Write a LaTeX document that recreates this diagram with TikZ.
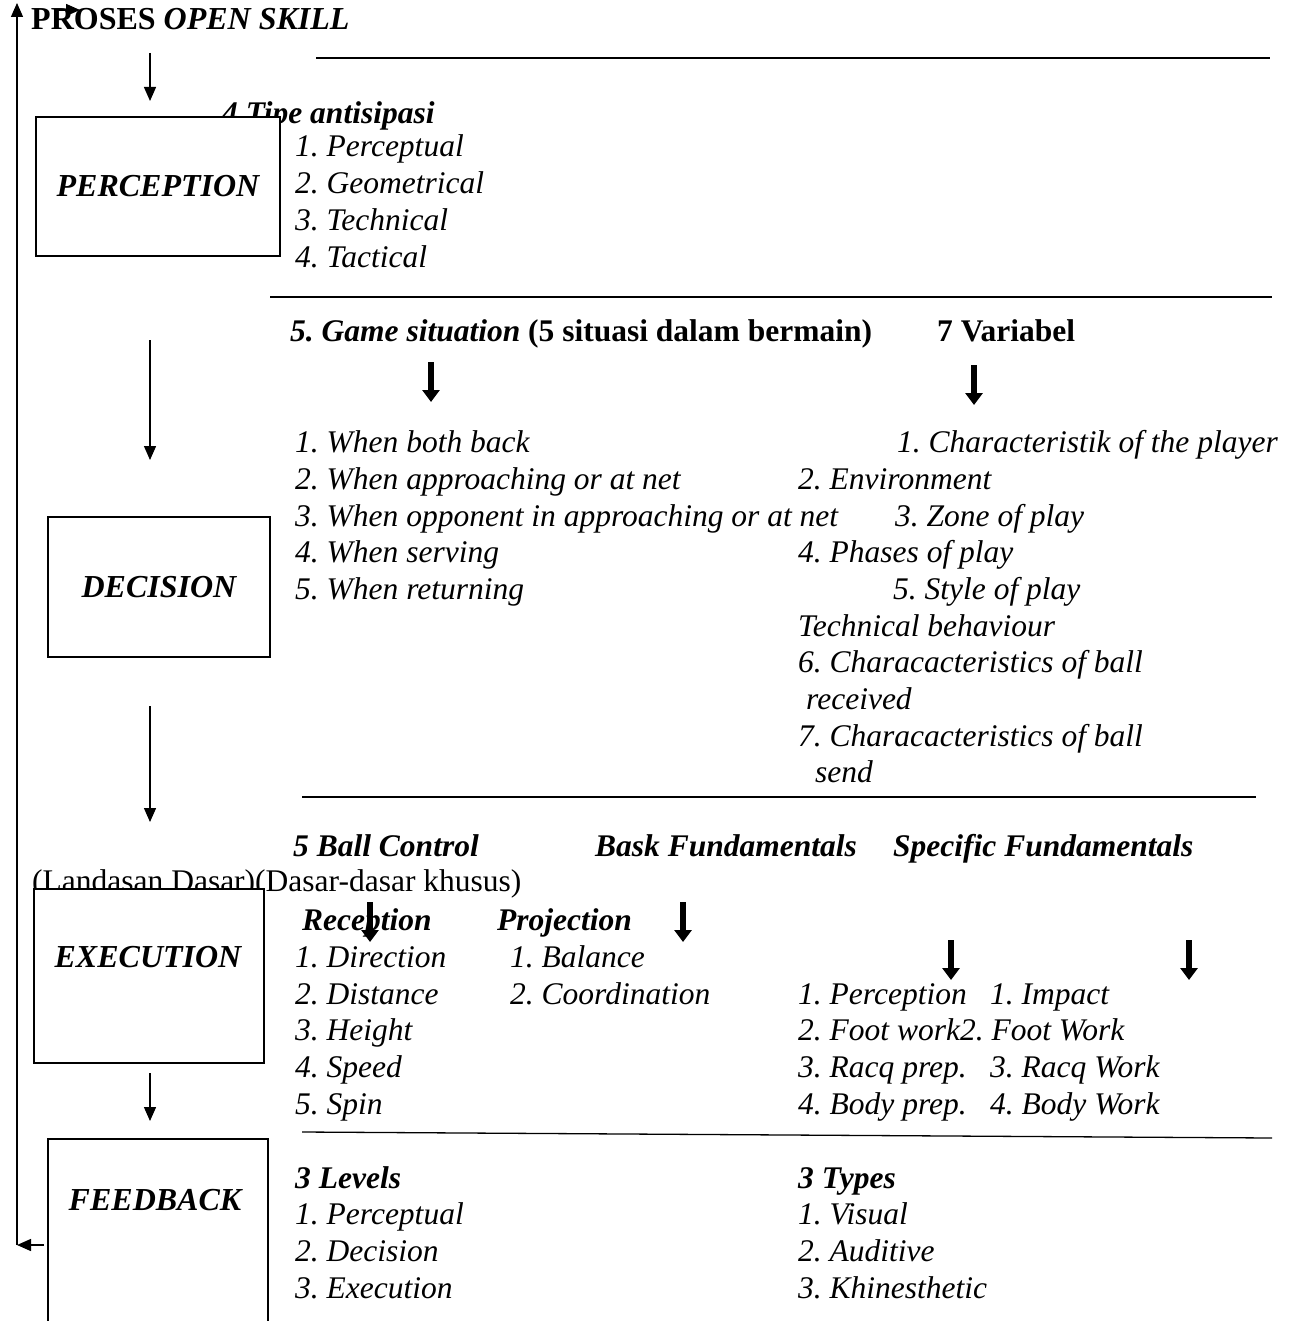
\documentclass[tikz,border=0pt]{standalone}
\usepackage{fontspec}
\setmainfont{Liberation Serif}
\usetikzlibrary{arrows.meta}
\begin{document}
\frenchspacing
\begin{tikzpicture}[x=1pt,y=-1pt,
  base/.style={anchor=west,inner sep=0pt,text height=22pt,text depth=7pt},
  txt/.style={base,font=\fontsize{31.5}{36}\selectfont\itshape},
  btxt/.style={base,font=\fontsize{31.5}{36}\selectfont\bfseries\itshape},
  bntxt/.style={base,font=\fontsize{31.5}{36}\selectfont\bfseries},
  rtxt/.style={base,font=\fontsize{31.5}{36}\selectfont},
  stage/.style={draw,line width=1.3pt,fill=white,inner sep=0pt,font=\fontsize{32}{36}\selectfont\bfseries\itshape},
  thin/.style={line width=1.4pt,-{Triangle[length=14pt,width=12pt]}},
  thick/.style={line width=6pt,-{Triangle[length=12pt,width=17pt]}},
  rule/.style={line width=1.3pt}]
\useasboundingbox (0,0) rectangle (1291,1321);

% title
\node[base,font=\fontsize{32}{36}\selectfont\bfseries] (title) at (31,22) {PROSES \textit{OPEN SKILL}};

% separator lines
\coordinate (l1a) at (316,58); \coordinate (l1b) at (1270,58);
\coordinate (l2a) at (270,297); \coordinate (l2b) at (1272,297);
\coordinate (l3a) at (302,797); \coordinate (l3b) at (1256,797);
\coordinate (l4a) at (302,1132); \coordinate (l4b) at (1272,1138);
\draw[rule] (l1a) -- (l1b);
\draw[rule] (l2a) -- (l2b);
\draw[rule] (l3a) -- (l3b);
\draw[rule] (l4a) -- (l4b);

% perception section text
\node[btxt] (tipe) at (222,116) {4 Tipe antisipasi};
\node[txt] (p1) at (295,149) {1. Perceptual};
\node[txt] (p2) at (295,186) {2. Geometrical};
\node[txt] (p3) at (295,223) {3. Technical};
\node[txt] (p4) at (295,260) {4. Tactical};

% decision section text
\node[bntxt] (game) at (290,334) {\textit{5. Game situation} (5 situasi dalam bermain)};
\node[bntxt] (vari) at (937,334) {7 Variabel};
\node[txt] (g1) at (295,445) {1. When both back};
\node[txt] (g2) at (295,482) {2. When approaching or at net};
\node[txt] (g3) at (295,519) {3. When opponent in approaching or at net};
\node[txt] (g4) at (295,555) {4. When serving};
\node[txt] (g5) at (295,592) {5. When returning};
\node[txt] (v1) at (897,445) {1. Characteristik of the player};
\node[txt] (v2) at (798,482) {2. Environment};
\node[txt] (v3) at (895,519) {3. Zone of play};
\node[txt] (v4) at (798,555) {4. Phases of play};
\node[txt] (v5) at (893,592) {5. Style of play};
\node[txt] (v6) at (798,629) {Technical behaviour};
\node[txt] (v7) at (798,665) {6. Characacteristics of ball};
\node[txt] (v8) at (806,702) {received};
\node[txt] (v9) at (798,739) {7. Characacteristics of ball};
\node[txt] (v10) at (815,775) {send};

% execution section text
\node[btxt] (ball) at (293,849) {5 Ball Control};
\node[btxt] (bask) at (595,849) {Bask Fundamentals};
\node[btxt] (spec) at (893,849) {Specific Fundamentals};
\node[rtxt] (land) at (32,884) {(Landasan Dasar)(Dasar-dasar khusus)};
\node[btxt] (recep) at (302,923) {Reception};
\node[btxt] (proj) at (497,923) {Projection};
\node[txt] (r1) at (295,960) {1. Direction};
\node[txt] (r2) at (295,997) {2. Distance};
\node[txt] (r3) at (295,1033) {3. Height};
\node[txt] (r4) at (295,1070) {4. Speed};
\node[txt] (r5) at (295,1107) {5. Spin};
\node[txt] (j1) at (510,960) {1. Balance};
\node[txt] (j2) at (510,997) {2. Coordination};
\node[txt] (s1) at (798,997) {1. Perception};
\node[txt] (s2) at (798,1033) {2. Foot work2. Foot Work};
\node[txt] (s3) at (798,1070) {3. Racq prep.};
\node[txt] (s4) at (798,1107) {4. Body prep.};
\node[txt] (t1) at (990,997) {1. Impact};
\node[txt] (t3) at (990,1070) {3. Racq Work};
\node[txt] (t4) at (990,1107) {4. Body Work};

% feedback section text
\node[btxt] (lev) at (295,1181) {3 Levels};
\node[txt] (f1) at (295,1217) {1. Perceptual};
\node[txt] (f2) at (295,1254) {2. Decision};
\node[txt] (f3) at (295,1291) {3. Execution};
\node[btxt] (typ) at (798,1181) {3 Types};
\node[txt] (y1) at (798,1217) {1. Visual};
\node[txt] (y2) at (798,1254) {2. Auditive};
\node[txt] (y3) at (798,1291) {3. Khinesthetic};

% stage boxes
\node[stage,minimum width=244pt,minimum height=139pt] (perc) at (158,186.5) {PERCEPTION};
\node[stage,minimum width=222pt,minimum height=140pt] (deci) at (159,587) {DECISION};
\node[stage,minimum width=230pt,minimum height=174pt] (exec) at (149,976) {};
\node[inner sep=0pt,font=\fontsize{32}{36}\selectfont\bfseries\itshape] (execl) at (148,957) {EXECUTION};
\coordinate (fbtl) at (48,1139); \coordinate (fbtr) at (268,1139);
\coordinate (fbbl) at (48,1321); \coordinate (fbbr) at (268,1321);
\draw[rule] (fbbl) -- (fbtl) -- (fbtr) -- (fbbr);
\node[inner sep=0pt,font=\fontsize{32}{36}\selectfont\bfseries\itshape] (feed) at (155,1200) {FEEDBACK};

% vertical flow arrows
\coordinate (a1s) at (150,53); \coordinate (a1e) at (150,101);
\coordinate (a2s) at (150,340); \coordinate (a2e) at (150,460);
\coordinate (a3s) at (150,706); \coordinate (a3e) at (150,822);
\coordinate (a4s) at (150,1073); \coordinate (a4e) at (150,1121);
\draw[thin] (a1s) -- (a1e);
\draw[thin] (a2s) -- (a2e);
\draw[thin] (a3s) -- (a3e);
\draw[thin] (a4s) -- (a4e);

% feedback loop
\coordinate (fbout) at (44,1245);
\coordinate (loopb) at (17,1245);
\coordinate (loopt) at (17,3);
\coordinate (tas) at (56,10); \coordinate (tae) at (80,10);
\draw[thin] (fbout) -- (loopb);
\draw[thin] (loopb) -- (loopt);
\draw[thin] (tas) -- (tae);

% thick arrows
\coordinate (k1s) at (431,362); \coordinate (k1e) at (431,402);
\coordinate (k2s) at (974,365); \coordinate (k2e) at (974,405);
\coordinate (k3s) at (370,902); \coordinate (k3e) at (370,942);
\coordinate (k4s) at (683,902); \coordinate (k4e) at (683,942);
\coordinate (k5s) at (951,940); \coordinate (k5e) at (951,980);
\coordinate (k6s) at (1189,940); \coordinate (k6e) at (1189,980);
\foreach \k in {1,...,6} {\draw[thick] (k\k s) -- (k\k e);}
\end{tikzpicture}
\end{document}
